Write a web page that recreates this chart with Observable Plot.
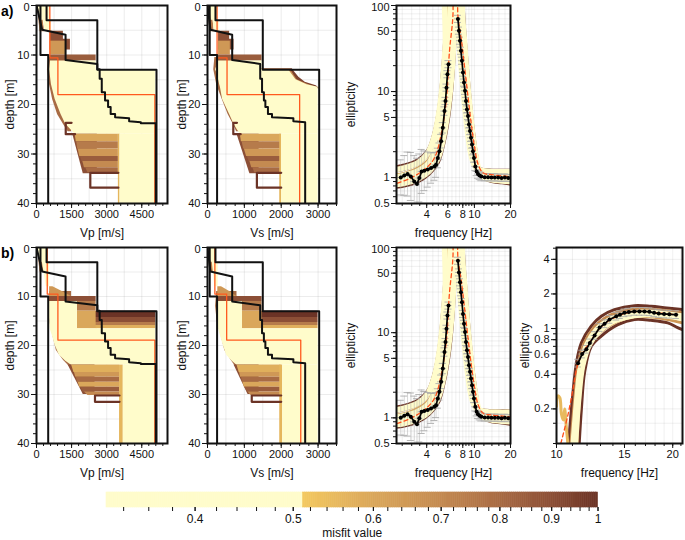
<!DOCTYPE html>
<html><head><meta charset="utf-8">
<script src="https://cdn.jsdelivr.net/npm/d3@7"></script>
<script src="https://cdn.jsdelivr.net/npm/@observablehq/plot@0.6"></script>
<style>
body{margin:0;background:#fff;font-family:"Liberation Sans",Arial,Helvetica,sans-serif;}
#fig{position:relative;width:685px;height:540px;overflow:hidden;background:#fff;}
.lab{position:absolute;font-weight:bold;font-size:14px;color:#000;}
</style></head><body><div id="fig"><div class="lab" style="left:1px;top:3px">a)</div><div class="lab" style="left:1px;top:245px">b)</div></div>
<script>
// ---------- misfit colour scale ----------
const misfitDomain = [0.327, 0.5119, 0.512, 0.6, 0.7, 0.8, 0.9, 1.0];
const misfitColors = ["#fffccb","#fffccb","#f3c860","#daa75b","#c48a51","#a86b44","#8c4f36","#6b3326"];

// ---------- ticks ----------
const depthTicks = [0,10,20,30,40];
const depthMinor = [0,2,4,6,8,10,12,14,16,18,20,22,24,26,28,30,32,34,36,38,40];
const depthGrid = [5,10,15,20,25,30,35];
const vpTicks = [0,1500,3000,4500];
const vpMinor = [0,300,600,900,1200,1500,1800,2100,2400,2700,3000,3300,3600,3900,4200,4500,4800,5100,5400];
const vpGrid = [750,1500,2250,3000,3750,4500,5250];
const vsTicks = [0,1000,2000,3000];
const vsMinor = [0,250,500,750,1000,1250,1500,1750,2000,2250,2500,2750,3000,3250,3500];
const vsGrid = [500,1000,1500,2000,2500,3000];
const ellTicks = [0.5,1,5,10,50,100];
const ellMinor = [0.5,0.6,0.7,0.8,0.9,1,2,3,4,5,6,7,8,9,10,20,30,40,50,60,70,80,90,100];
const freqTicks = [4,6,8,10,20];
const freqMinor = [2.5,3,3.5,4,4.5,5,5.5,6,6.5,7,7.5,8,8.5,9,9.5,10,12,14,16,18,20];
const ell2Ticks = [0.2,0.4,0.6,0.8,1,2,4];
const ell2Minor = [0.1,0.15,0.2,0.3,0.4,0.5,0.6,0.7,0.8,0.9,1,1.5,2,3,4,5];
const freq2Ticks = [10,15,20];
const freq2Minor = [10,11,12,13,14,15,16,17,18,19,20,21];
const cbTicks = [0.4,0.5,0.6,0.7,0.8,0.9,1];
const cbMinor = [0.34,0.36,0.38,0.4,0.42,0.44,0.46,0.48,0.5,0.52,0.54,0.56,0.58,0.6,0.62,0.64,0.66,0.68,0.7,0.72,0.74,0.76,0.78,0.8,0.82,0.84,0.86,0.88,0.9,0.92,0.94,0.96,0.98,1];

// ---------- reference profiles (velocity, depth) ----------
const vpLower = [[170,0],[170,10],[500,10],[500,40]];
const vpUpper = [[430,0],[430,3],[2600,3],[2600,13],[5130,13],[5130,40]];
const vpTrue = [[0,0],[243,4.9],[1243,5.9],[1243,11.0],[2600,11.8],[2600,12.9],[2700,12.9],[2700,14.8],[2790,14.8],[2790,17.5],[2930,17.5],[2930,19.2],[3060,19.2],[3060,20.5],[3170,20.5],[3170,21.9],[3360,21.9],[3360,22.6],[3960,22.8],[3960,23.4],[4460,23.6],[4460,23.8],[5100,23.8],[5100,40]];
const vsLower = [[60,0],[60,10],[260,10],[260,40]];
const vsUpper = [[216,0],[216,3],[1500,3],[1500,13],[3030,13],[3030,40]];
const vsTrue = [[0,0],[80,4.9],[670,5.9],[670,11.0],[1430,11.8],[1430,14.8],[1480,14.8],[1480,17.5],[1530,17.5],[1530,19.2],[1570,19.2],[1570,20.5],[1640,20.5],[1640,21.9],[1750,21.9],[1750,22.6],[2330,22.8],[2330,23.4],[2650,23.6],[2650,40]];
const vpBestA = [[570,0],[570,10.6],[915,10.6],[915,18],[5060,18],[5060,40]];
const vsBestA = [[260,0],[260,10.6],[530,10.6],[530,18],[2500,18],[2500,40]];
const vpBestB = [[460,0],[460,9.5],[915,9.5],[915,18.9],[5060,18.9],[5060,40]];
const vsBestB = [[200,0],[200,9.5],[520,9.5],[520,18.9],[2530,18.9],[2530,40]];

// ---------- inverted model ensembles: [misfit, depths, lower velocity, upper velocity] ----------
const vpBandsA = [
 [0.8,[10.5,13,16,19,22,24,25.5],[520,470,560,690,900,1150,1350],1500],
 [0.75,[0,5.3],[40,150],[200,350]],
 [0.45,[0,3,3,5.3],[60,200,300,380],[560,560,640,640]],
 [0.9,[5.2,6.8,6.8,9.0],590,[1150,1150,1450,1450]],
 [0.65,[7.2,10.0],590,1250],
 [0.85,[10.0,11.2],590,2550],
 [0.4,[11.2,13,13,16,19,22,24,25,26],[600,560,560,640,800,1050,1250,1450,1650],[2550,2550,5100,5100,5100,5100,5100,5100,5100]],
 [0.9,[26,34],[1550,2000],2600],
 [0.6,[26,27.5],[1650,1700],3500],
 [0.75,[27.5,29],[1720,1760],3500],
 [0.65,[29,30.5],[1780,1850],3500],
 [0.85,[30.5,31.5],[1870,1950],3500],
 [0.7,[31.5,32.8],[1980,2050],3500],
 [0.8,[32.8,33.8],[2100,2200],3500],
 [0.56,[26,40],3500,3570],
 [0.4,[26,40],3570,5100]
];
const vpOutlinesA = [[1.0,[[3500,33.8],[2300,33.8],[2300,36.8],[3500,36.8]]],[1.0,[[1500,23.7],[1250,23.7],[1250,26],[1650,26]]]];
const vsBandsA = [
 [0.8,[10.5,13,16,19,22,24,25.5],[200,170,250,400,560,700,790],900],
 [0.75,[0,5.3],[20,60],[120,180]],
 [0.45,[0,3,3,5.3],[60,100,150,190],[280,280,320,320]],
 [0.9,[5.2,6.8,6.8,9.0],300,[600,600,720,720]],
 [0.65,[7.2,10.0],300,620],
 [0.85,[10.0,11.2],300,1480],
 [0.95,[12.8,13.6,14.5,15.5,16.2,16.8],1400,[2300,2380,2480,2650,2950,3050]],
 [0.7,[12.9,14,15,16,16.6],1400,[2250,2340,2430,2750,3000]],
 [0.4,[11.2,13,13,14,15,16,16.5,19,22,24,25,26],[300,220,220,270,300,330,350,410,600,720,800,890],[1480,1480,2200,2300,2400,2700,3000,3000,3000,3000,3000,3000]],
 [0.9,[26,34],[800,1150],1400],
 [0.6,[26,27.5],[890,920],2000],
 [0.75,[27.5,29],[940,980],2000],
 [0.65,[29,30.5],[1000,1060],2000],
 [0.85,[30.5,31.5],[1080,1130],2000],
 [0.7,[31.5,32.8],[1150,1200],2000],
 [0.8,[32.8,33.8],[1230,1280],2000],
 [0.56,[26,40],1960,2010],
 [0.4,[26,40],2010,3000]
];
const vsOutlinesA = [[1.0,[[2000,33.8],[1340,33.8],[1340,36.8],[2000,36.8]]],[1.0,[[800,23.7],[700,23.7],[700,26],[900,26]]]];
const vpBandsB = [
 [0.8,[9,12,15,18,21,23,24.5],[560,520,560,700,850,1150,1450],1500],
 [0.75,[0,5],[40,150],[200,350]],
 [0.45,[0,3,3,8],[60,150,250,420],[480,480,560,560]],
 [0.65,[8,9,10],560,[700,1100,1500]],
 [0.9,[10,11],560,2550],
 [0.75,[11,13],1750,2550],
 [0.6,[13,16.6],1750,2600],
 [1.0,[13,14.3],2550,5100],
 [0.9,[14.3,15.3],2550,5100],
 [0.75,[15.3,15.9],2550,5100],
 [0.58,[15.9,16.6],2550,5100],
 [0.4,[11,13,13,16.6,16.6,18,20,22,23.2,24],[560,540,540,580,580,680,800,980,1250,1480],[1750,1750,1750,1750,5100,5100,5100,5100,5100,5100]],
 [0.9,[24,30],[1350,2000],2500],
 [0.58,[24,25.5],[1500,1600],3550],
 [0.65,[25.5,26.5],[1620,1680],3550],
 [0.8,[26.5,27.5],[1700,1750],3550],
 [0.6,[27.5,28.5],[1780,1850],3550],
 [0.85,[28.5,29.5],[1880,2000],3550],
 [0.7,[29.5,30.2],[2050,2200],3550],
 [0.56,[24,40],3550,3710],
 [0.4,[24,40],3710,5100]
];
const vpOutlinesB = [[1.0,[[3550,30.2],[2500,30.2],[2500,31.5],[3550,31.5]]]];
const vsBandsB = [
 [0.8,[9,12,15,18,21,23,24.5],[250,220,260,370,470,640,780],800],
 [0.75,[0,5],[20,60],[120,180]],
 [0.45,[0,3,3,8],[50,90,130,200],[240,240,290,290]],
 [0.65,[8,9,10],280,[380,600,800]],
 [0.9,[10,11],280,1480],
 [0.75,[11,13],950,1480],
 [0.6,[13,16.6],950,1500],
 [1.0,[13,14.3],1480,3000],
 [0.9,[14.3,15.3],1480,3000],
 [0.75,[15.3,15.9],1480,3000],
 [0.58,[15.9,16.6],1480,3000],
 [0.4,[11,13,13,16.6,16.6,18,20,22,23.2,24],[280,260,260,300,300,350,430,520,670,790],[950,950,950,950,3000,3000,3000,3000,3000,3000]],
 [0.9,[24,30],[720,1100],1400],
 [0.58,[24,25.5],[800,860],2000],
 [0.65,[25.5,26.5],[870,900],2000],
 [0.8,[26.5,27.5],[920,950],2000],
 [0.6,[27.5,28.5],[960,1000],2000],
 [0.85,[28.5,29.5],[1010,1080],2000],
 [0.7,[29.5,30.2],[1100,1180],2000],
 [0.56,[24,40],1960,2040],
 [0.4,[24,40],2040,3000]
];
const vsOutlinesB = [[1.0,[[2000,30.2],[1200,30.2],[1200,31.5],[2000,31.5]]]];

// ---------- ellipticity (fundamental peak) ----------
const ellFreq = [2.43,2.60,2.77,2.95,3.15,3.32,3.47,3.63,3.82,4.08,4.35,4.64,4.79,4.95,5.11,5.28,5.45,5.63,5.74,5.85,5.96,6.08,
 7.29,7.43,7.58,7.72,7.87,8.03,8.19,8.35,8.51,8.67,8.84,9.01,9.19,9.37,9.55,9.73,9.92,10.18,10.44,10.71,11.06,11.43,12.19,13.0,13.87,14.8,15.79,16.84,17.96,19.16];
const ellVal = [1.005,1.06,1.10,1.03,0.90,0.84,0.99,1.18,1.20,1.24,1.29,1.35,1.41,1.69,2.02,2.65,3.79,5.93,7.77,11.1,15.9,20.8,
 69.9,51,39,29.8,22.8,16.6,12.7,10.2,7.77,6.2,5.19,4.15,3.47,2.90,2.42,2.02,1.69,1.35,1.18,1.10,1.06,1.03,1.01,1.01,1.005,1.005,1.005,0.99,1.005,0.99];
const ellErr = [1.6,1.7,1.8,1.9,2.0,2.0,1.9,1.8,1.7,1.6,1.5,1.45,1.4,1.3,1.25,1.2,1.15,1.12,1.1,1.1,1.1,1.1,
 1.1,1.1,1.1,1.1,1.1,1.1,1.1,1.1,1.1,1.1,1.1,1.1,1.1,1.1,1.1,1.1,1.12,1.12,1.12,1.12,1.12,1.12,1.1,1.1,1.1,1.1,1.1,1.1,1.1,1.1];
const ellBest = [[2.28,0.86],[2.95,0.99],[3.82,1.24],[4.64,1.69],[5.28,3.17],[5.82,7.8],[6.2,29.8],[6.61,73],[6.8,300],[7.1,300],[7.29,75],[7.78,40],[8.29,19],[8.86,8.5],[9.43,4.15],[10.06,2.2],[10.75,1.42],[11.84,1.13],[13.9,1.08],[19.8,1.03]];
const ellMisfits = [1.0,1.0,0.75,0.7,0.6,0.45,0.45,0.4,0.4,0.4];
const ellCurves = [
 [[1.9,1.30],[2.6,1.40],[3.4,1.62],[4.1,2.1],[4.6,3.3],[5.05,6.5],[5.35,14],[5.6,32],[5.8,90],[5.95,300],[6.9,300],[7.15,80],[7.5,30],[7.9,12],[8.4,5],[8.9,2.6],[9.4,1.7],[10.2,1.35],[11.5,1.25],[14,1.22],[21,1.22]],
 [[1.9,0.76],[2.6,0.80],[3.4,0.90],[4.2,1.10],[5.0,1.5],[5.6,2.6],[6.1,5],[6.5,11],[6.8,28],[7.1,90],[7.25,300],[7.9,300],[8.1,90],[8.4,40],[8.8,17],[9.3,7],[9.8,3.5],[10.4,1.9],[11.0,1.25],[12,0.98],[14,0.9],[17,0.87],[21,0.83]],
 [[1.9,1.15],[2.6,1.25],[3.4,1.45],[4.1,1.85],[4.7,3.0],[5.2,6.5],[5.55,15],[5.85,40],[6.1,300],[7.0,300],[7.3,70],[7.65,28],[8.1,11],[8.6,4.8],[9.1,2.5],[9.7,1.6],[10.5,1.28],[12,1.18],[15,1.15],[21,1.15]],
 [[1.9,0.85],[2.6,0.90],[3.4,1.02],[4.2,1.25],[4.9,1.8],[5.5,3.3],[6.0,7],[6.4,16],[6.7,45],[6.95,300],[7.7,300],[7.9,80],[8.2,35],[8.6,14],[9.1,6],[9.6,3],[10.2,1.75],[10.9,1.2],[12,1.02],[15,0.95],[21,0.92]],
 [[1.9,1.05],[2.6,1.12],[3.4,1.30],[4.2,1.65],[4.8,2.6],[5.3,5.5],[5.7,14],[6.0,40],[6.3,300],[7.1,300],[7.4,75],[7.75,30],[8.2,12],[8.7,5.2],[9.2,2.7],[9.8,1.65],[10.6,1.25],[12,1.12],[15,1.08],[21,1.07]],
 [[1.9,1.2],[2.6,1.3],[3.4,1.5],[4.1,1.95],[4.65,3.1],[5.1,6.2],[5.45,14],[5.72,36],[5.95,300],[6.95,300],[7.2,80],[7.55,30],[8.0,11.5],[8.5,4.9],[9.0,2.55],[9.55,1.65],[10.3,1.3],[11.8,1.2],[15,1.17],[21,1.17]],
 [[1.9,0.82],[2.6,0.86],[3.4,0.97],[4.2,1.18],[4.95,1.65],[5.55,3.0],[6.05,6.3],[6.45,14.5],[6.75,40],[7.0,300],[7.7,300],[7.95,80],[8.3,36],[8.7,14.5],[9.2,6.3],[9.7,3.1],[10.3,1.8],[11.0,1.2],[12,1.0],[15,0.93],[21,0.9]],
 [[1.9,0.92],[2.6,0.98],[3.4,1.12],[4.2,1.40],[4.9,2.2],[5.4,4.3],[5.8,10],[6.15,27],[6.45,90],[6.65,300],[7.3,300],[7.5,80],[7.85,32],[8.3,12.5],[8.8,5.5],[9.3,2.9],[9.9,1.7],[10.6,1.2],[11.8,1.05],[15,1.0],[21,0.98]],
 [[1.9,1.0],[2.6,1.06],[3.4,1.20],[4.2,1.50],[4.85,2.4],[5.35,5],[5.75,12],[6.05,32],[6.3,100],[6.5,300],[7.2,300],[7.4,80],[7.75,31],[8.2,12.5],[8.7,5.4],[9.2,2.8],[9.8,1.7],[10.5,1.24],[11.8,1.08],[15,1.03],[21,1.02]],
 [[1.9,0.97],[2.6,1.02],[3.4,1.16],[4.2,1.45],[4.85,2.3],[5.4,4.6],[5.8,11],[6.1,30],[6.4,100],[6.6,300],[7.25,300],[7.45,80],[7.8,31],[8.25,12.5],[8.75,5.4],[9.25,2.85],[9.85,1.7],[10.55,1.22],[11.8,1.06],[15,1.01],[21,1.0]]
];

// ---------- ellipticity (higher branch, panel b right) ----------
const hiFreq = [11.37,11.65,11.95,12.2,12.55,12.93,13.32,13.72,14.28,14.6,15.0,15.4,15.9,16.4,16.9,17.4,17.9,18.4,19.0,19.6,20.4];
const hiVal = [0.50,0.60,0.66,0.75,0.87,1.02,1.10,1.20,1.28,1.32,1.37,1.39,1.41,1.41,1.41,1.40,1.37,1.35,1.34,1.33,1.32];
const hiErr = [1.08,1.08,1.08,1.08,1.08,1.08,1.08,1.08,1.08,1.08,1.08,1.08,1.08,1.08,1.08,1.08,1.08,1.08,1.08,1.08,1.08];
const hiBest = [[10.26,0.1],[10.7,0.176],[11.04,0.30],[11.3,0.46],[11.65,0.6],[12.2,0.76],[12.93,1.0],[13.72,1.18],[15.0,1.35],[16.4,1.41],[17.9,1.38],[20.4,1.32]];
const hiMisfits = [1.0,1.0,0.7,0.65,0.55,0.4,0.4];
const hiCurves = [
 [[10.75,0.1],[11.0,0.25],[11.26,0.5],[11.6,0.75],[12.3,1.05],[13.06,1.28],[14.13,1.46],[15.92,1.58],[17.57,1.56],[19.0,1.52],[21.2,1.46]],
 [[11.45,0.1],[11.6,0.2],[11.83,0.42],[12.31,0.7],[13.06,0.86],[14.42,1.08],[15.92,1.2],[17.57,1.18],[19.41,1.12],[20.59,1.02],[21.2,0.98]],
 [[10.9,0.1],[11.15,0.25],[11.4,0.5],[11.8,0.75],[12.5,1.02],[13.3,1.22],[14.3,1.38],[15.9,1.48],[17.6,1.47],[19.4,1.43],[21.2,1.38]],
 [[11.3,0.1],[11.45,0.22],[11.7,0.45],[12.2,0.72],[13.0,0.93],[14.3,1.14],[15.9,1.27],[17.6,1.26],[19.4,1.2],[21.2,1.12]],
 [[10.0,0.21],[10.08,0.26],[10.2,0.25],[10.3,0.18],[10.42,0.16],[10.5,0.2],[10.6,0.14],[10.7,0.1]],
 [[11.05,0.1],[11.3,0.25],[11.55,0.47],[12.0,0.73],[12.7,0.98],[13.6,1.17],[14.8,1.3],[16.3,1.38],[18,1.37],[19.5,1.33],[21.2,1.28]],
 [[11.2,0.1],[11.42,0.25],[11.68,0.47],[12.15,0.72],[12.9,0.95],[13.9,1.14],[15.2,1.26],[16.7,1.32],[18.3,1.31],[19.8,1.27],[21.2,1.22]]
];

// ---------- helpers ----------
const FONT = "'Liberation Sans', Arial, Helvetica, sans-serif";
const STYLE = {background: "transparent", fontFamily: FONT, fontSize: "11px", color: "#111", overflow: "visible", maxWidth: "none"};
const colorScale = () => ({type: "linear", domain: misfitDomain, range: misfitColors, interpolate: "rgb"});
const fig = document.getElementById("fig");
function place(svg, left, top) {
  svg.style.position = "absolute"; svg.style.left = left + "px"; svg.style.top = top + "px";
  fig.appendChild(svg);
}
function arr(v, n) { return Array.isArray(v) ? v : Array(n).fill(v); }
function bandMark(b) {
  const n = b[1].length, lo = arr(b[2], n), hi = arr(b[3], n);
  const pts = b[1].map((d, i) => ({depth: d, lo: lo[i], hi: hi[i], m: b[0]}));
  return Plot.areaX(pts, {y: "depth", x1: "lo", x2: "hi", fill: "m", clip: true});
}
function prof(pts, stroke, w) {
  return Plot.line(pts, {x: d => d[0], y: d => d[1], stroke, strokeWidth: w, clip: true});
}
// axes: tick marks via axis marks, tick labels via text marks
function axesMarks(o) {
  const topV = o.yTop;
  return [
    Plot.axisY(o.yMinor, {tickSize: 3, tickFormat: () => "", label: null}),
    Plot.axisY(o.yTicks, {tickSize: 5, tickFormat: () => "", fontSize: 12, label: o.yLabel, labelAnchor: "center", labelOffset: o.ylo, labelArrow: "none"}),
    Plot.text(o.yTicks.filter(d => d !== topV), {y: d => d, text: d => String(d), frameAnchor: "left", dx: -7, textAnchor: "end", fontSize: 11}),
    Plot.text(o.yTicks.filter(d => d === topV), {y: d => d, text: d => String(d), frameAnchor: "left", dx: -7, dy: 1.5, textAnchor: "end", fontSize: 11}),
    Plot.axisX(o.xMinor, {tickSize: 3, tickFormat: () => "", label: null}),
    Plot.axisX(o.xTicks, {tickSize: 5, tickFormat: () => "", fontSize: 12, label: o.xLabel, labelAnchor: "center", labelOffset: 33, labelArrow: "none"}),
    Plot.text(o.xTicks, {x: d => d, text: d => String(d), frameAnchor: "bottom", dy: 7, lineAnchor: "top", fontSize: 11})
  ];
}

function depthPanel(o) {
  return Plot.plot({
    width: o.width, height: o.height, marginLeft: 36, marginRight: 4, marginTop: 5, marginBottom: 37,
    style: STYLE,
    x: {domain: o.xDomain}, y: {domain: [0, 40], reverse: true},
    color: colorScale(),
    marks: [
      Plot.gridX(o.xGrid, {stroke: "#888", strokeOpacity: 0.16}),
      Plot.gridY(depthGrid, {stroke: "#888", strokeOpacity: 0.16}),
      ...o.bands.map(bandMark),
      ...o.outlines.map(l => Plot.line(l[1], {x: d => d[0], y: d => d[1], stroke: () => l[0], strokeWidth: 2.2, clip: true})),
      prof(o.best, "#ff5a1e", 1.3),
      prof(o.lower, "#111", 2),
      prof(o.upper, "#111", 2),
      prof(o.truth, "#111", 2),
      Plot.frame({stroke: "#111", strokeWidth: 2}),
      ...axesMarks({yMinor: depthMinor, yTicks: depthTicks, yTop: 0, yLabel: "depth [m]", ylo: o.ylo, xMinor: o.xMinor, xTicks: o.xTicks, xLabel: o.xLabel})
    ]
  });
}

function ellMarks(freqs, vals, errs, best, curves, misfits, capw) {
  const data = freqs.map((f, i) => ({f, e: vals[i], k: errs[i], br: (i > 0 && f - freqs[i - 1] > 0.8) ? 1 : 0}));
  let br = 0; data.forEach(d => { if (d.br) br++; d.z = br; });
  const order = misfits.map((m, i) => i).sort((a, b) => misfits[b] - misfits[a]);
  const grey = "#a9a9a9";
  return [
    ...order.map(i => Plot.line(curves[i], {x: d => d[0], y: d => d[1], stroke: () => misfits[i],
      strokeWidth: misfits[i] < 0.5 ? 5.5 : 3, curve: "catmull-rom", strokeLinejoin: "round", clip: true})),
    Plot.ruleX(data, {x: "f", y1: d => d.e / d.k, y2: d => d.e * d.k, stroke: grey, strokeWidth: 0.8, strokeOpacity: 0.6, clip: true}),
    Plot.ruleY(data, {y: d => d.e * d.k, x1: d => d.f / capw, x2: d => d.f * capw, stroke: grey, strokeOpacity: 0.85, clip: true}),
    Plot.ruleY(data, {y: d => d.e / d.k, x1: d => d.f / capw, x2: d => d.f * capw, stroke: grey, strokeOpacity: 0.85, clip: true}),
    Plot.ruleY(data, {y: "e", x1: d => d.f / capw, x2: d => d.f * capw, stroke: grey, strokeOpacity: 0.85, clip: true}),
    Plot.line(best, {x: d => d[0], y: d => d[1], stroke: "#ff4f1a", strokeWidth: 1.3, strokeDasharray: "4,3", curve: "catmull-rom", clip: true}),
    Plot.line(data, {x: "f", y: "e", z: "z", stroke: "#000", strokeWidth: 1.7, clip: true}),
    Plot.dot(data, {x: "f", y: "e", r: 2, fill: "#000", clip: true})
  ];
}

function ellPanel(o) {
  return Plot.plot({
    width: o.width, height: o.height, marginLeft: 56, marginRight: o.mr, marginTop: 5, marginBottom: 37,
    style: STYLE,
    x: {type: "log", domain: o.xDomain}, y: {type: "log", domain: o.yDomain},
    color: colorScale(),
    marks: [
      Plot.gridX(o.xMinor, {stroke: "#888", strokeOpacity: 0.13}),
      Plot.gridY(o.yMinor, {stroke: "#888", strokeOpacity: 0.13}),
      ...o.marks,
      Plot.frame({stroke: "#111", strokeWidth: 2}),
      ...axesMarks({yMinor: o.yMinor, yTicks: o.yTicks, yTop: o.yTop, yLabel: "ellipticity", ylo: o.ylo, xMinor: o.xMinor, xTicks: o.xTicks, xLabel: "frequency [Hz]"})
    ]
  });
}

// ---------- row a ----------
place(depthPanel({width: 171, height: 240, xDomain: [0, 5600], xTicks: vpTicks, xMinor: vpMinor, xGrid: vpGrid, xLabel: "Vp [m/s]", ylo: 31,
  bands: vpBandsA, outlines: vpOutlinesA, best: vpBestA, lower: vpLower, upper: vpUpper, truth: vpTrue}), 0, 0);
place(depthPanel({width: 169, height: 240, xDomain: [0, 3500], xTicks: vsTicks, xMinor: vsMinor, xGrid: vsGrid, xLabel: "Vs [m/s]", ylo: 30,
  bands: vsBandsA, outlines: vsOutlinesA, best: vsBestA, lower: vsLower, upper: vsUpper, truth: vsTrue}), 171, 0);
place(ellPanel({width: 180, height: 240, mr: 10, xDomain: [2.24, 20], yDomain: [0.5, 100], xTicks: freqTicks, xMinor: freqMinor, yTicks: ellTicks, yMinor: ellMinor, yTop: 100, ylo: 50,
  marks: ellMarks(ellFreq, ellVal, ellErr, ellBest, ellCurves, ellMisfits, 1.07)}), 340, 0);

// ---------- row b ----------
place(depthPanel({width: 171, height: 238, xDomain: [0, 5600], xTicks: vpTicks, xMinor: vpMinor, xGrid: vpGrid, xLabel: "Vp [m/s]", ylo: 31,
  bands: vpBandsB, outlines: vpOutlinesB, best: vpBestB, lower: vpLower, upper: vpUpper, truth: vpTrue}), 0, 242);
place(depthPanel({width: 169, height: 238, xDomain: [0, 3500], xTicks: vsTicks, xMinor: vsMinor, xGrid: vsGrid, xLabel: "Vs [m/s]", ylo: 30,
  bands: vsBandsB, outlines: vsOutlinesB, best: vsBestB, lower: vsLower, upper: vsUpper, truth: vsTrue}), 171, 242);
place(ellPanel({width: 180, height: 238, mr: 10, xDomain: [2.24, 20], yDomain: [0.5, 100], xTicks: freqTicks, xMinor: freqMinor, yTicks: ellTicks, yMinor: ellMinor, yTop: 100, ylo: 50,
  marks: ellMarks(ellFreq, ellVal, ellErr, ellBest, ellCurves, ellMisfits, 1.07)}), 340, 242);
place(ellPanel({width: 185, height: 238, mr: 3, xDomain: [10, 21.2], yDomain: [0.1, 5.07], xTicks: freq2Ticks, xMinor: freq2Minor, yTicks: ell2Ticks, yMinor: ell2Minor, yTop: null, ylo: 36,
  marks: ellMarks(hiFreq, hiVal, hiErr, hiBest, hiCurves, hiMisfits, 1.02)}), 500, 242);

// ---------- colour bar ----------
const cbN = 240;
const cbEdges = d3.range(cbN + 1).map(i => 0.327 * Math.pow(1 / 0.327, i / cbN));
place(Plot.plot({
  width: 515, height: 53, marginLeft: 10, marginRight: 13.5, marginTop: 7, marginBottom: 31,
  style: STYLE,
  x: {type: "log", domain: [0.327, 1]},
  color: colorScale(),
  marks: [
    Plot.rect(d3.pairs(cbEdges), {x1: d => d[0], x2: d => d[1], fill: d => Math.sqrt(d[0] * d[1]), stroke: d => Math.sqrt(d[0] * d[1]), strokeWidth: 0.6}),
    Plot.axisX(cbMinor, {tickSize: 4, tickFormat: () => "", label: null}),
    Plot.axisX(cbTicks, {tickSize: 4, tickFormat: () => "", fontSize: 12, label: "misfit value", labelAnchor: "center", labelOffset: 29, labelArrow: "none"}),
    Plot.text(cbTicks, {x: d => d, text: d => String(d), frameAnchor: "bottom", dy: 7, lineAnchor: "top", fontSize: 12})
  ]
}), 96, 485);
</script></body></html>
